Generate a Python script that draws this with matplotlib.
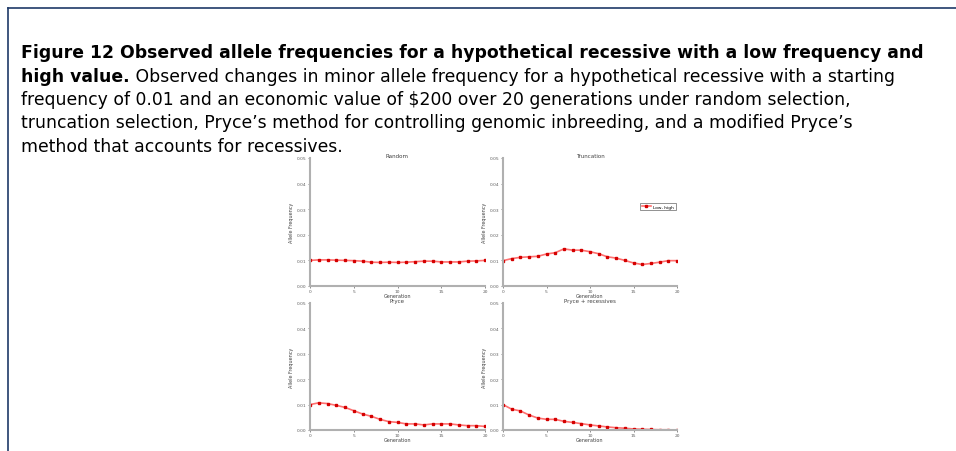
import matplotlib
matplotlib.use("Agg")
import matplotlib.pyplot as plt
from matplotlib.lines import Line2D

generations = list(range(21))
random_sel = [0.0100, 0.0102, 0.0102, 0.0101, 0.0100, 0.0099, 0.0097, 0.0093, 0.0092, 0.0093, 0.0092,
              0.0093, 0.0095, 0.0097, 0.0097, 0.0094, 0.0094, 0.0094, 0.0097, 0.0098, 0.0100]
truncation = [0.0099, 0.0107, 0.0112, 0.0114, 0.0116, 0.0125, 0.0130, 0.0145, 0.0140, 0.0140, 0.0134,
              0.0126, 0.0114, 0.0109, 0.0100, 0.0090, 0.0084, 0.0088, 0.0093, 0.0099, 0.0099]
pryce = [0.0100, 0.0107, 0.0104, 0.0097, 0.0089, 0.0076, 0.0063, 0.0054, 0.0042, 0.0033, 0.0030,
         0.0024, 0.0024, 0.0020, 0.0024, 0.0024, 0.0024, 0.0020, 0.0017, 0.0017, 0.0014]
pryce_rec = [0.0100, 0.0082, 0.0075, 0.0059, 0.0047, 0.0042, 0.0042, 0.0034, 0.0030, 0.0025, 0.0020,
             0.0016, 0.0012, 0.0009, 0.0007, 0.0004, 0.0003, 0.0002, 0.0001, 0.0001, 0.0000]
titles = ["Random", "Truncation", "Pryce", "Pryce + recessives"]
series = [random_sel, truncation, pryce, pryce_rec]
legend_label = "Low, high"
yticks = [0.00, 0.01, 0.02, 0.03, 0.04, 0.05]
xticks = [0, 5, 10, 15, 20]

caption_bold1 = "Figure 12 Observed allele frequencies for a hypothetical recessive with a low frequency and"
caption_bold2 = "high value."
caption_rest2 = " Observed changes in minor allele frequency for a hypothetical recessive with a starting"
caption_lines = [
    "frequency of 0.01 and an economic value of $200 over 20 generations under random selection,",
    "truncation selection, Pryce\u2019s method for controlling genomic inbreeding, and a modified Pryce\u2019s",
    "method that accounts for recessives.",
]

W, H = 956, 452
fig = plt.figure(figsize=(W / 100, H / 100), dpi=100)
fam = ["DejaVu Sans"]

# frame lines
fc = "#1f3a68"
fig.add_artist(Line2D([8 / W, 1], [1 - 9 / H, 1 - 9 / H], color=fc, lw=1.2))
fig.add_artist(Line2D([8 / W, 8 / W], [1 - 9 / H, 0], color=fc, lw=1.2))

fs = 12.0
x0 = 21 / W
base = [58, 81.5, 105, 128.5, 152]
t1 = fig.text(x0, 1 - base[0] / H, caption_bold1, fontsize=fs, fontweight="bold", family=fam, va="baseline")
fig.canvas.draw()
w1 = t1.get_window_extent().width
fs = fs * (917 - 21) / w1
t1.set_fontsize(fs)
tb = fig.text(x0, 1 - base[1] / H, caption_bold2, fontsize=fs, fontweight="bold", family=fam, va="baseline")
fig.canvas.draw()
bb = tb.get_window_extent()
fig.text(bb.x1 / W, 1 - base[1] / H, caption_rest2, fontsize=fs, family=fam, va="baseline")
for i, line in enumerate(caption_lines):
    fig.text(x0, 1 - base[2 + i] / H, line, fontsize=fs, family=fam, va="baseline")

boxes = [
    (310, 485, 159, 287),
    (503, 677, 159, 287),
    (310, 485, 304, 431),
    (503, 677, 304, 431),
]
for k, (l, r, t, b) in enumerate(boxes):
    ax = fig.add_axes([l / W, 1 - b / H, (r - l) / W, (b - t) / H])
    ax.plot(generations, series[k], color="#ff7070", lw=1.2, marker="s", markersize=2,
            markerfacecolor="#d40000", markeredgecolor="#d40000", label=legend_label)
    ax.set_xlim(0, 20)
    ax.set_ylim(0, 0.05)
    ax.set_xticks(xticks)
    ax.set_yticks(yticks)
    ax.set_yticklabels([f"{v:.2f}" for v in yticks])
    for s in ["top", "right"]:
        ax.spines[s].set_visible(False)
    for s in ["left", "bottom"]:
        ax.spines[s].set_color("#b0b0b0")
        ax.spines[s].set_linewidth(1.5)
    ax.tick_params(labelsize=3.2, colors="#606060", length=1.5, width=0.5, pad=1)
    ax.set_title(titles[k], fontsize=4, color="#404040", pad=0.5)
    ax.set_xlabel("Generation", fontsize=3.5, color="#404040", labelpad=0)
    ax.set_ylabel("Allele Frequency", fontsize=3.5, color="#404040", labelpad=2)
    if k == 1:
        leg = ax.legend(loc="center", bbox_to_anchor=(0.89, 0.62), fontsize=3.2, frameon=True,
                        fancybox=False, handlelength=2, borderpad=0.4, handletextpad=0.5)
        leg.get_frame().set_edgecolor("#606060")
        leg.get_frame().set_linewidth(0.6)

fig.savefig("out.png", dpi=100)
